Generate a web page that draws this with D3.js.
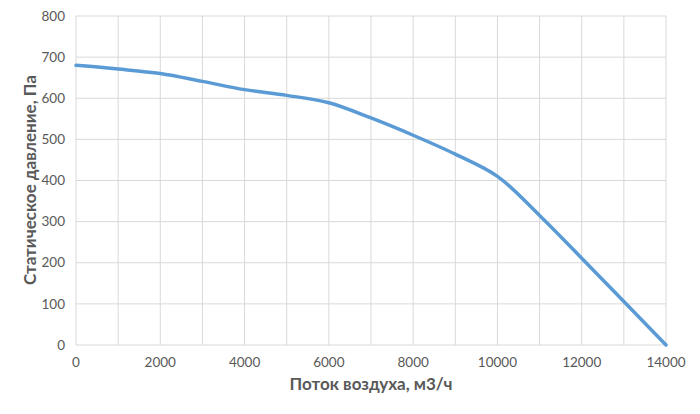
<!DOCTYPE html>
<html><head><meta charset="utf-8">
<script src="https://cdn.jsdelivr.net/npm/d3@7"></script>
<style>body{margin:0;background:#fff;}svg{display:block;font-family:Lato,"Open Sans","Liberation Sans",sans-serif;}</style>
</head><body>
<svg id="c" width="700" height="414"></svg>
<script>
const flow = [0,1000,2000,3000,4000,5000,6000,7000,8000,9000,10000,11000,12000,13000,14000];
const pressure = [680,671,660,641,621,607,589,552,510,464,410,315,211,106,0];
const xTicks = [0,2000,4000,6000,8000,10000,12000,14000];
const xGrid = [0,1000,2000,3000,4000,5000,6000,7000,8000,9000,10000,11000,12000,13000,14000];
const yTicks = [0,100,200,300,400,500,600,700,800];
const xTitle = "Поток воздуха, м3/ч";
const yTitle = "Статическое давление, Па";

const svg = d3.select("#c");
const x = d3.scaleLinear().domain([0,14000]).range([76,666]);
const y = d3.scaleLinear().domain([0,800]).range([345,16]);

svg.append("g").selectAll("line").data(xGrid).join("line")
  .attr("x1",d=>x(d)).attr("x2",d=>x(d)).attr("y1",y(800)).attr("y2",y(0))
  .attr("stroke","#d9d9d9").attr("stroke-width",1);
svg.append("g").selectAll("line").data(yTicks).join("line")
  .attr("x1",x(0)).attr("x2",x(14000)).attr("y1",d=>y(d)).attr("y2",d=>y(d))
  .attr("stroke","#d9d9d9").attr("stroke-width",1);

svg.append("g").selectAll("text").data(yTicks).join("text")
  .attr("x",65).attr("y",d=>y(d)).attr("dy","0.35em").attr("text-anchor","end")
  .attr("font-size",13.5).attr("fill","#595959").text(d=>d);
svg.append("g").selectAll("text").data(xTicks).join("text")
  .attr("x",d=>x(d)).attr("y",367).attr("text-anchor","middle")
  .attr("font-size",13.5).attr("fill","#595959").text(d=>d);

const line = d3.line().x((d,i)=>x(flow[i])).y(d=>y(d)).curve(d3.curveCatmullRom.alpha(0.5));
svg.append("path").datum(pressure).attr("d",line).attr("fill","none")
  .attr("stroke","#5b9bd5").attr("stroke-width",3.5).attr("stroke-linecap","round");

svg.append("text").attr("x",371).attr("y",390).attr("text-anchor","middle")
  .attr("font-size",17).attr("font-weight","bold").attr("fill","#595959").text(xTitle);
svg.append("text").attr("transform","translate(36,180) rotate(-90)").attr("text-anchor","middle")
  .attr("font-size",17).attr("font-weight","bold").attr("fill","#595959").text(yTitle);
</script>
</body></html>
